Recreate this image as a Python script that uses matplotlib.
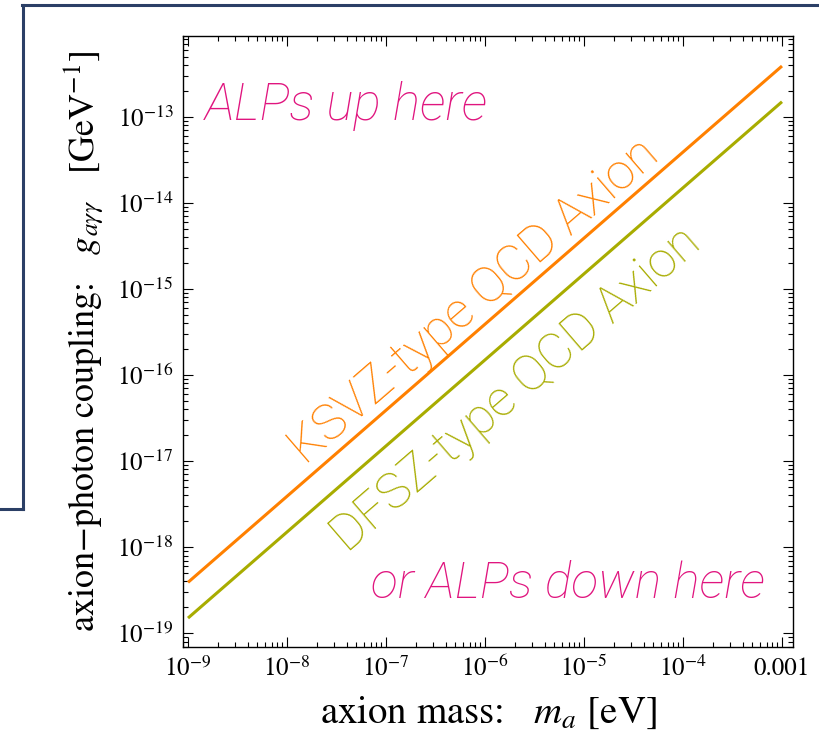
import matplotlib
matplotlib.use("Agg")
import matplotlib.pyplot as plt
from matplotlib.lines import Line2D
from matplotlib.ticker import LogLocator, FixedLocator, FixedFormatter, NullFormatter

# axion mass [eV] and photon couplings [GeV^-1] at the ends of each band line
mass = [1e-9, 1e-3]
g_ksvz = [3.9e-19, 3.9e-13]
g_dfsz = [1.5e-19, 1.5e-13]

xticks = [1e-9, 1e-8, 1e-7, 1e-6, 1e-5, 1e-4, 1e-3]
xticklabels = [r"$10^{-9}$", r"$10^{-8}$", r"$10^{-7}$", r"$10^{-6}$",
               r"$10^{-5}$", r"$10^{-4}$", "0.001"]
yticks = [1e-19, 1e-18, 1e-17, 1e-16, 1e-15, 1e-14, 1e-13]
yticklabels = [r"$10^{-19}$", r"$10^{-18}$", r"$10^{-17}$", r"$10^{-16}$",
               r"$10^{-15}$", r"$10^{-14}$", r"$10^{-13}$"]

plt.rcParams["font.family"] = "STIXGeneral"
plt.rcParams["mathtext.fontset"] = "stix"

fig = plt.figure(figsize=(8.2, 7.44), dpi=100)
ax = fig.add_axes([183 / 820, 1 - 647 / 744, 610 / 820, 611 / 744])

ax.plot(mass, g_ksvz, color="#ff8000", lw=2.2, solid_capstyle="butt")
ax.plot(mass, g_dfsz, color="#a8ac00", lw=2.2, solid_capstyle="butt")

ax.set_xscale("log")
ax.set_yscale("log")
ax.set_xlim(10 ** (-9 - 5 / 99), 10 ** (-3 + 11 / 99))
ax.set_ylim(10 ** (-19.16), 10 ** (-12.06))

ax.xaxis.set_major_locator(FixedLocator(xticks))
ax.xaxis.set_major_formatter(FixedFormatter(xticklabels))
ax.yaxis.set_major_locator(FixedLocator(yticks))
ax.yaxis.set_major_formatter(FixedFormatter(yticklabels))
for axis in (ax.xaxis, ax.yaxis):
    axis.set_minor_locator(LogLocator(base=10, subs=range(2, 10), numticks=30))
    axis.set_minor_formatter(NullFormatter())

ax.tick_params(which="both", direction="in", top=True, right=True, width=0.8)
ax.tick_params(which="major", length=7, labelsize=18, pad=7)
ax.tick_params(which="minor", length=3.5)
for sp in ax.spines.values():
    sp.set_linewidth(1.0)

ax.set_xlabel(r"axion mass:   $m_a$ [eV]", fontsize=28, labelpad=9)
ax.set_ylabel(r"axion$-$photon coupling:   $g_{a\gamma\gamma}$   [GeV$^{-1}$]",
              fontsize=26, labelpad=8)

note = dict(family="Roboto", weight="light")
ax.text(0.036, 0.862, "ALPs up here", transform=ax.transAxes, color="#e0157f",
        fontsize=37, ha="left", va="baseline", style="italic", **note)
ax.text(0.954, 0.080, "or ALPs down here", transform=ax.transAxes, color="#e0157f",
        fontsize=36, ha="right", va="baseline", style="italic", **note)
ax.text(0.477, 0.566, "KSVZ-type QCD Axion", transform=ax.transAxes, color="#ff8000",
        fontsize=36, ha="center", va="center", rotation=40.8,
        rotation_mode="anchor", **note)
ax.text(0.546, 0.422, "DFSZ-type QCD Axion", transform=ax.transAxes, color="#a8ac00",
        fontsize=36, ha="center", va="center", rotation=40.8,
        rotation_mode="anchor", **note)

# slide frame around the plot
frame = "#2b3f66"
W, H = 820, 744
fig.add_artist(Line2D([22 / W, 1.0], [1 - 5 / H, 1 - 5 / H], color=frame, lw=2.2))
fig.add_artist(Line2D([23 / W, 23 / W], [1 - 5 / H, 1 - 509 / H], color=frame, lw=2.2))
fig.add_artist(Line2D([0.0, 23 / W], [1 - 509 / H, 1 - 509 / H], color=frame, lw=2.2))

fig.savefig("out.png", dpi=100)
